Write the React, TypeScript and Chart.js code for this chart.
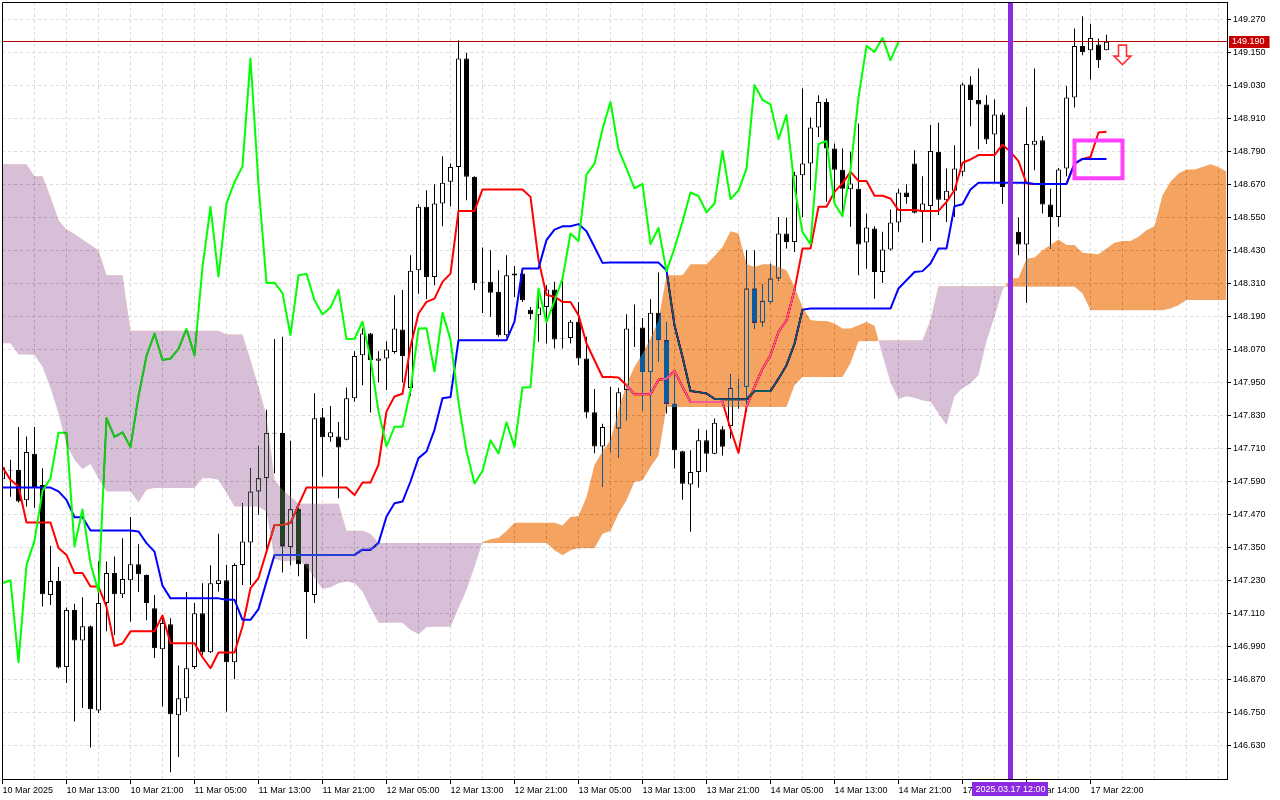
import React, { useEffect, useRef } from 'react';
import { Chart, registerables } from 'chart.js';

// ---- blend plugin: Ichimoku cloud drawn in "difference" mode (as the terminal does) ----
const cloudBlendPlugin = {
  id: 'cloudBlend',
  beforeDatasetDraw(chart: any, args: any) {
    const ds = chart.data.datasets[args.index];
    if (ds && ds.isCloud) {
      chart.ctx.save();
      chart.ctx.globalCompositeOperation = 'difference';
    }
  },
  afterDatasetDraw(chart: any, args: any) {
    const ds = chart.data.datasets[args.index];
    if (ds && ds.isCloud) chart.ctx.restore();
  },
};
Chart.register(cloudBlendPlugin);
Chart.register(...registerables);

// ---------------- DATA ----------------
const opens = [
  147.598, 147.633, 147.632, 147.522, 147.691, 147.577, 147.177, 147.228, 146.915, 147.123,
  147.012, 147.064, 146.757, 147.148, 147.257, 147.180, 147.231, 147.289, 147.250, 147.129,
  146.980, 147.071, 146.740, 146.802, 146.915, 147.111, 146.969, 147.217, 147.231, 146.933,
  147.286, 147.368, 147.554, 147.602, 147.767, 147.766, 147.351, 147.489, 147.289, 147.177,
  147.824, 147.751, 147.754, 147.742, 147.893, 148.049, 148.128, 148.029, 148.037, 148.061,
  148.143, 147.930, 148.358, 148.589, 148.334, 148.601, 148.680, 148.734, 149.128, 148.698,
  148.316, 148.316, 148.280, 148.122, 148.339, 148.346, 148.215, 148.195, 148.225, 148.288,
  148.111, 148.112, 148.171, 148.037, 147.842, 147.717, 147.789, 147.783, 147.922, 148.149,
  148.150, 147.988, 148.204, 148.104, 147.873, 147.700, 147.579, 147.625, 147.740, 147.691,
  147.780, 147.792, 147.935, 147.934, 148.292, 148.168, 148.243, 148.328, 148.492, 148.461,
  148.704, 148.746, 148.877, 148.970, 148.801, 148.724, 148.653, 148.655, 148.459, 148.510,
  148.352, 148.434, 148.532, 148.641, 148.746, 148.570, 148.592, 148.789, 148.613, 148.647,
  148.716, 149.034, 148.977, 148.961, 148.852, 148.925, 148.661, 148.498, 148.452, 148.815,
  148.831, 148.597, 148.552, 148.728, 148.986, 149.174, 149.158, 149.179, 149.158,
];
const highs = [
  147.660, 147.669, 147.788, 147.754, 147.788, 147.638, 147.356, 147.279, 147.132, 147.145,
  147.169, 147.066, 147.299, 147.299, 147.317, 147.384, 147.461, 147.362, 147.252, 147.177,
  147.104, 147.093, 146.921, 147.188, 147.148, 147.220, 147.285, 147.400, 147.287, 147.293,
  147.511, 147.638, 147.720, 147.851, 148.108, 148.116, 147.738, 147.493, 147.291, 147.911,
  147.857, 147.865, 147.806, 147.932, 148.064, 148.146, 148.130, 148.064, 148.100, 148.267,
  148.286, 148.413, 148.598, 148.649, 148.671, 148.773, 148.746, 149.195, 149.149, 148.700,
  148.441, 148.431, 148.358, 148.413, 148.374, 148.350, 148.225, 148.292, 148.304, 148.316,
  148.320, 148.177, 148.243, 148.116, 147.926, 147.800, 147.935, 147.931, 148.198, 148.234,
  148.185, 148.253, 148.350, 148.170, 147.976, 147.702, 147.704, 147.782, 147.776, 147.819,
  147.791, 147.980, 147.964, 148.431, 148.431, 148.307, 148.383, 148.552, 148.550, 148.716,
  149.019, 148.914, 148.995, 148.983, 148.819, 148.801, 148.789, 148.892, 148.564, 148.518,
  148.498, 148.579, 148.655, 148.671, 148.795, 148.700, 148.886, 148.895, 148.728, 148.813,
  149.040, 149.064, 149.092, 148.995, 148.979, 148.932, 148.700, 148.550, 148.952, 149.092,
  148.846, 148.655, 148.730, 149.028, 149.237, 149.282, 149.255, 149.201, 149.215,
];
const lows = [
  147.580, 147.535, 147.514, 147.499, 147.495, 147.135, 147.141, 146.910, 146.857, 146.717,
  146.766, 146.623, 146.748, 147.045, 147.032, 147.166, 147.081, 147.188, 147.085, 146.948,
  146.772, 146.533, 146.588, 146.754, 146.908, 146.960, 146.966, 147.190, 146.754, 146.871,
  147.214, 147.214, 147.469, 147.329, 147.620, 147.259, 147.285, 147.245, 147.017, 147.148,
  147.608, 147.735, 147.529, 147.740, 147.880, 147.940, 147.841, 147.950, 147.923, 148.055,
  147.950, 147.900, 148.273, 148.253, 148.304, 148.518, 148.591, 148.104, 148.613, 148.286,
  148.203, 148.189, 148.116, 148.116, 148.261, 148.243, 148.179, 148.098, 148.092, 148.074,
  148.074, 148.092, 148.013, 147.820, 147.693, 147.572, 147.699, 147.677, 147.813, 148.079,
  147.849, 147.685, 148.025, 147.837, 147.637, 147.524, 147.407, 147.568, 147.625, 147.689,
  147.685, 147.746, 147.855, 147.843, 148.146, 148.152, 148.238, 148.320, 148.437, 148.425,
  148.552, 148.649, 148.843, 148.607, 148.607, 148.552, 148.516, 148.340, 148.364, 148.255,
  148.312, 148.430, 148.498, 148.600, 148.565, 148.458, 148.465, 148.559, 148.534, 148.552,
  148.700, 148.882, 148.798, 148.817, 148.676, 148.599, 148.480, 148.413, 148.240, 148.722,
  148.565, 148.437, 148.516, 148.700, 148.950, 149.140, 149.052, 149.094, 149.158,
];
const closes = [
  147.642, 147.630, 147.517, 147.697, 147.569, 147.180, 147.228, 146.914, 147.123, 147.012,
  147.064, 146.762, 147.148, 147.257, 147.180, 147.235, 147.289, 147.253, 147.148, 146.984,
  147.075, 146.744, 146.802, 146.911, 147.111, 146.969, 147.220, 147.231, 146.933, 147.286,
  147.372, 147.554, 147.602, 147.766, 147.765, 147.354, 147.489, 147.289, 147.188, 147.820,
  147.751, 147.769, 147.714, 147.893, 148.046, 148.128, 148.031, 148.037, 148.070, 148.146,
  148.046, 148.356, 148.589, 148.334, 148.601, 148.676, 148.734, 149.128, 148.698, 148.312,
  148.314, 148.276, 148.122, 148.340, 148.346, 148.249, 148.198, 148.223, 148.288, 148.106,
  148.109, 148.171, 148.037, 147.841, 147.717, 147.788, 147.787, 147.915, 148.146, 148.147,
  147.988, 148.204, 148.104, 147.873, 147.704, 147.582, 147.625, 147.740, 147.691, 147.804,
  147.716, 147.931, 147.933, 148.292, 148.167, 148.247, 148.328, 148.492, 148.461, 148.704,
  148.746, 148.877, 148.970, 148.801, 148.724, 148.655, 148.674, 148.452, 148.514, 148.352,
  148.434, 148.532, 148.641, 148.625, 148.567, 148.601, 148.792, 148.615, 148.647, 148.728,
  149.034, 148.977, 148.961, 148.834, 148.925, 148.661, 148.500, 148.452, 148.817, 148.829,
  148.597, 148.552, 148.725, 148.986, 149.174, 149.152, 149.203, 149.122, 149.189,
];
const tenkan = [
  147.642, 147.596, 147.572, 147.441, 147.441, 147.441, 147.441, 147.348, 147.323, 147.257,
  147.257, 147.208, 147.208, 147.135, 146.992, 147.001, 147.045, 147.045, 147.045, 147.045,
  147.103, 147.002, 147.002, 147.002, 147.002, 146.951, 146.911, 146.968, 146.968, 146.968,
  147.063, 147.202, 147.239, 147.335, 147.432, 147.433, 147.439, 147.505, 147.568, 147.568,
  147.568, 147.568, 147.568, 147.568, 147.541, 147.586, 147.586, 147.651, 147.845, 147.899,
  147.909, 148.080, 148.201, 148.243, 148.255, 148.316, 148.346, 148.574, 148.574, 148.574,
  148.652, 148.652, 148.652, 148.652, 148.652, 148.652, 148.625, 148.395, 148.268, 148.262,
  148.243, 148.243, 148.195, 148.092, 148.031, 147.970, 147.970, 147.968, 147.940, 147.907,
  147.907, 147.907, 147.960, 147.964, 147.992, 147.934, 147.879, 147.879, 147.879, 147.879,
  147.879, 147.782, 147.694, 147.861, 147.934, 148.000, 148.049, 148.134, 148.176, 148.286,
  148.437, 148.437, 148.589, 148.589, 148.643, 148.674, 148.716, 148.683, 148.683, 148.629,
  148.629, 148.619, 148.577, 148.577, 148.577, 148.574, 148.574, 148.574, 148.607, 148.649,
  148.749, 148.761, 148.777, 148.777, 148.777, 148.815, 148.789, 148.755, 148.674, 148.672,
  148.672, 148.672, 148.672, 148.672, 148.745, 148.763, 148.770, 148.859, 148.862,
];
const kijun = [
  147.568, 147.568, 147.568, 147.568, 147.568, 147.568, 147.568, 147.554, 147.523, 147.460,
  147.460, 147.412, 147.412, 147.412, 147.412, 147.412, 147.412, 147.408, 147.366, 147.335,
  147.211, 147.165, 147.165, 147.165, 147.165, 147.165, 147.165, 147.165, 147.160, 147.160,
  147.087, 147.087, 147.126, 147.226, 147.323, 147.323, 147.323, 147.323, 147.323, 147.323,
  147.323, 147.323, 147.323, 147.323, 147.323, 147.342, 147.342, 147.366, 147.463, 147.511,
  147.517, 147.590, 147.675, 147.699, 147.778, 147.893, 147.897, 148.104, 148.104, 148.104,
  148.104, 148.104, 148.104, 148.104, 148.171, 148.365, 148.365, 148.365, 148.468, 148.506,
  148.518, 148.518, 148.526, 148.500, 148.443, 148.385, 148.386, 148.386, 148.386, 148.386,
  148.386, 148.386, 148.386, 148.358, 148.158, 148.043, 147.919, 147.915, 147.910, 147.891,
  147.889, 147.889, 147.889, 147.889, 147.919, 147.919, 147.919, 147.964, 148.013, 148.091,
  148.215, 148.219, 148.219, 148.219, 148.219, 148.219, 148.219, 148.219, 148.219, 148.219,
  148.219, 148.219, 148.292, 148.322, 148.352, 148.355, 148.383, 148.437, 148.437, 148.591,
  148.598, 148.652, 148.676, 148.676, 148.676, 148.676, 148.676, 148.676, 148.676, 148.672,
  148.672, 148.672, 148.672, 148.672, 148.746, 148.763, 148.763, 148.763, 148.763,
];
const chikou = [
  147.220, 147.231, 146.933, 147.286, 147.375, 147.556, 147.602, 147.767, 147.767, 147.354,
  147.488, 147.292, 147.189, 147.820, 147.752, 147.769, 147.715, 147.900, 148.047, 148.128,
  148.032, 148.037, 148.072, 148.145, 148.049, 148.370, 148.589, 148.335, 148.601, 148.678,
  148.737, 149.128, 148.670, 148.312, 148.313, 148.275, 148.122, 148.340, 148.345, 148.249,
  148.198, 148.223, 148.287, 148.108, 148.109, 148.171, 148.037, 147.845, 147.718, 147.789,
  147.789, 147.920, 148.146, 148.147, 147.990, 148.204, 148.106, 147.878, 147.700, 147.583,
  147.628, 147.740, 147.692, 147.805, 147.716, 147.932, 147.933, 148.292, 148.169, 148.247,
  148.328, 148.492, 148.464, 148.706, 148.746, 148.872, 148.970, 148.798, 148.728, 148.656,
  148.672, 148.453, 148.512, 148.355, 148.438, 148.535, 148.641, 148.628, 148.569, 148.601,
  148.792, 148.617, 148.648, 148.728, 149.032, 148.978, 148.961, 148.835, 148.923, 148.661,
  148.497, 148.453, 148.817, 148.828, 148.600, 148.555, 148.723, 148.987, 149.174, 149.152,
  149.203, 149.122, 149.189,
];
const spanA = [
  148.093, 148.093, 148.052, 148.052, 148.050, 148.007, 147.930, 147.838, 147.723, 147.669,
  147.635, 147.654, 147.602, 147.554, 147.554, 147.554, 147.554, 147.514, 147.560, 147.566,
  147.566, 147.566, 147.566, 147.566, 147.566, 147.602, 147.602, 147.596, 147.548, 147.499,
  147.499, 147.499, 147.499, 147.480, 147.310, 147.300, 147.300, 147.305, 147.280, 147.240,
  147.199, 147.205, 147.220, 147.226, 147.220, 147.190, 147.130, 147.076, 147.076, 147.076,
  147.076, 147.050, 147.035, 147.060, 147.062, 147.062, 147.062, 147.130, 147.195, 147.280,
  147.370, 147.380, 147.385, 147.410, 147.440, 147.440, 147.440, 147.440, 147.440, 147.440,
  147.430, 147.461, 147.465, 147.534, 147.650, 147.700, 147.740, 147.850, 147.943, 148.007,
  148.055, 148.110, 148.176, 148.340, 148.340, 148.340, 148.380, 148.380, 148.380, 148.410,
  148.443, 148.500, 148.492, 148.380, 148.370, 148.380, 148.380, 148.370, 148.358, 148.298,
  148.225, 148.177, 148.174, 148.174, 148.165, 148.146, 148.146, 148.158, 148.170, 148.156,
  148.050, 147.950, 147.890, 147.900, 147.895, 147.885, 147.880, 147.837, 147.795, 147.900,
  147.930, 147.946, 147.977, 148.100, 148.189, 148.286, 148.328, 148.330, 148.400, 148.405,
  148.431, 148.450, 148.470, 148.450, 148.450, 148.422, 148.419, 148.416, 148.437, 148.458,
  148.465, 148.465, 148.480, 148.504, 148.518, 148.631, 148.680, 148.710, 148.725, 148.725,
  148.734, 148.744, 148.734, 148.716,
];
const spanB = [
  148.744, 148.744, 148.744, 148.744, 148.700, 148.700, 148.625, 148.540, 148.506, 148.490,
  148.470, 148.450, 148.431, 148.340, 148.340, 148.340, 148.138, 148.138, 148.138, 148.138,
  148.138, 148.138, 148.138, 148.138, 148.138, 148.138, 148.138, 148.138, 148.125, 148.125,
  148.125, 148.031, 147.934, 147.826, 147.596, 147.560, 147.535, 147.509, 147.509, 147.509,
  147.509, 147.509, 147.509, 147.411, 147.411, 147.411, 147.400, 147.366, 147.366, 147.366,
  147.366, 147.366, 147.366, 147.366, 147.366, 147.366, 147.366, 147.366, 147.366, 147.366,
  147.366, 147.366, 147.366, 147.366, 147.366, 147.366, 147.366, 147.366, 147.366, 147.340,
  147.322, 147.340, 147.347, 147.347, 147.347, 147.400, 147.410, 147.473, 147.522, 147.588,
  147.594, 147.643, 147.685, 147.861, 147.861, 147.861, 147.861, 147.861, 147.861, 147.861,
  147.861, 147.861, 147.861, 147.861, 147.861, 147.861, 147.861, 147.861, 147.861, 147.940,
  147.970, 147.970, 147.970, 147.970, 147.970, 147.970, 148.020, 148.100, 148.100, 148.100,
  148.104, 148.104, 148.104, 148.104, 148.104, 148.104, 148.177, 148.300, 148.300, 148.300,
  148.300, 148.300, 148.300, 148.300, 148.300, 148.300, 148.298, 148.298, 148.298, 148.298,
  148.298, 148.298, 148.298, 148.298, 148.298, 148.274, 148.213, 148.213, 148.213, 148.213,
  148.213, 148.213, 148.213, 148.213, 148.213, 148.213, 148.219, 148.231, 148.250, 148.250,
  148.250, 148.250, 148.250, 148.250,
];

const priceTicks = [
  146.63, 146.75, 146.87, 146.99, 147.11, 147.23, 147.35, 147.47, 147.59, 147.71, 147.83, 147.95,
  148.07, 148.19, 148.31, 148.43, 148.55, 148.67, 148.79, 148.91, 149.03, 149.15, 149.27,
];
const timeLabels = [
  '10 Mar 2025', '10 Mar 13:00', '10 Mar 21:00', '11 Mar 05:00', '11 Mar 13:00', '11 Mar 21:00',
  '12 Mar 05:00', '12 Mar 13:00', '12 Mar 21:00', '13 Mar 05:00', '13 Mar 13:00', '13 Mar 21:00',
  '14 Mar 05:00', '14 Mar 13:00', '14 Mar 21:00', '17 Mar 06:00', '17 Mar 14:00', '17 Mar 22:00',
];
const timeLabelBars = [0, 8, 16, 24, 32, 40, 48, 56, 64, 72, 80, 88, 96, 104, 112, 120, 128, 136];
const gridBars = [
  0, 4, 8, 12, 16, 20, 24, 28, 32, 36, 40, 44, 48, 52, 56, 60, 64, 68, 72, 76, 80, 84, 88, 92, 96,
  100, 104, 108, 112, 116, 120, 124, 128, 132, 136, 140, 144, 148, 152,
];

const currentPrice = 149.19;
const markerBar = 126;
const markerLabel = '2025.03.17 12:00';
const boxBars = [134, 140];
const boxPrices = [148.693, 148.830];
const arrowBar = 140;
const arrowTopPrice = 149.177;

const X_MIN = -0.0625;
const X_MAX = 153.0625;
const Y_MAX = 149.33364;
const Y_MIN = 146.50818;

const FONT = 'Liberation Sans';
const FONT_SIZE = 9;

// ---------------- CHART ----------------
const overlayPlugin = {
  id: 'overlay',
  beforeDraw(chart: any) {
    const { ctx, width, height } = chart;
    ctx.save();
    ctx.fillStyle = '#ffffff';
    ctx.fillRect(0, 0, width, height);
    ctx.restore();
  },
  afterDraw(chart: any) {
    const { ctx, chartArea: a } = chart;
    const xs = chart.scales.x;
    const ys = chart.scales.y;
    ctx.save();
    // frame (left/top)
    ctx.strokeStyle = '#000';
    ctx.lineWidth = 1;
    ctx.beginPath();
    ctx.moveTo(a.left + 0.5, a.bottom);
    ctx.lineTo(a.left + 0.5, a.top + 0.5);
    ctx.lineTo(a.right, a.top + 0.5);
    ctx.stroke();

    ctx.font = `${FONT_SIZE}px "${FONT}"`;
    ctx.textBaseline = 'middle';
    // current price label
    const py = ys.getPixelForValue(currentPrice);
    const ptxt = currentPrice.toFixed(3);
    const pw = ctx.measureText(ptxt).width;
    ctx.fillStyle = '#c80000';
    ctx.fillRect(a.right + 2, Math.round(py) - 6, pw + 8, 12);
    ctx.fillStyle = '#ffffff';
    ctx.textAlign = 'left';
    ctx.fillText(ptxt, a.right + 5, py + 0.5);

    // vertical marker time label
    const vx = xs.getPixelForValue(markerBar);
    const mw = ctx.measureText(markerLabel).width + 6;
    ctx.fillStyle = '#8a2be2';
    ctx.fillRect(Math.round(vx - mw / 2), a.bottom + 3, Math.round(mw), 14);
    ctx.fillStyle = '#ffffff';
    ctx.textAlign = 'center';
    ctx.fillText(markerLabel, vx, a.bottom + 10.5);

    // sell arrow
    const ax = xs.getPixelForValue(arrowBar);
    const ay = ys.getPixelForValue(arrowTopPrice);
    ctx.beginPath();
    ctx.moveTo(ax - 4, ay);
    ctx.lineTo(ax + 4, ay);
    ctx.lineTo(ax + 4, ay + 11);
    ctx.lineTo(ax + 8.5, ay + 11);
    ctx.lineTo(ax, ay + 19.5);
    ctx.lineTo(ax - 8.5, ay + 11);
    ctx.lineTo(ax - 4, ay + 11);
    ctx.closePath();
    ctx.fillStyle = '#ffffff';
    ctx.fill();
    ctx.lineJoin = 'miter';
    ctx.lineWidth = 1.6;
    ctx.strokeStyle = '#ff3030';
    ctx.stroke();
    ctx.restore();
  },
};

function buildConfig(): any {
  const idx = opens.map((_, i) => i);
  const wickData = idx.map((i) => ({ x: i, y: [lows[i], highs[i]] }));
  const bodyData = idx.map((i) => ({ x: i, y: [opens[i], closes[i]] }));
  const tenkanData = tenkan.map((v, i) => ({ x: i, y: v }));
  const kijunData = kijun.map((v, i) => ({ x: i, y: v }));
  const chikouData = chikou.map((v, i) => ({ x: i, y: v }));
  const aData = spanA.map((v, i) => ({ x: i, y: v }));
  const bData = spanB.map((v, i) => ({ x: i, y: v }));

  const lineBase = {
    type: 'line',
    pointRadius: 0,
    pointHoverRadius: 0,
    tension: 0,
    fill: false,
    clip: 0,
    borderJoinStyle: 'round',
  };

  const datasets: any[] = [
    {
      ...lineBase,
      label: 'marker',
      data: [{ x: markerBar, y: Y_MIN }, { x: markerBar, y: Y_MAX }],
      borderColor: '#8a2be2',
      backgroundColor: '#8a2be2',
      borderWidth: 5,
      borderCapStyle: 'butt',
      order: 0,
    },
    {
      ...lineBase,
      label: 'Senkou A',
      isCloud: true,
      data: aData,
      borderColor: 'rgba(0,0,0,0)',
      backgroundColor: 'rgba(0,0,0,0)',
      borderWidth: 0,
      fill: { target: 9, above: 'rgb(11,91,159)', below: 'rgb(39,64,39)' },
      order: 1,
    },
    {
      ...lineBase,
      label: 'box',
      data: [
        { x: boxBars[0], y: boxPrices[1] },
        { x: boxBars[1], y: boxPrices[1] },
        { x: boxBars[1], y: boxPrices[0] },
        { x: boxBars[0], y: boxPrices[0] },
        { x: boxBars[0], y: boxPrices[1] },
      ],
      borderColor: '#ff40ff',
      backgroundColor: '#ff40ff',
      borderWidth: 4,
      borderJoinStyle: 'miter',
      borderCapStyle: 'square',
      order: 2,
    },
    {
      ...lineBase,
      label: 'bid',
      data: [{ x: X_MIN, y: currentPrice }, { x: X_MAX, y: currentPrice }],
      borderColor: '#b00000',
      backgroundColor: '#b00000',
      borderWidth: 1,
      order: 3,
    },
    {
      ...lineBase,
      label: 'Chikou',
      data: chikouData,
      borderColor: '#00ff00',
      backgroundColor: '#00ff00',
      borderWidth: 2,
      order: 4,
    },
    {
      ...lineBase,
      label: 'Kijun',
      data: kijunData,
      borderColor: '#0000ff',
      backgroundColor: '#0000ff',
      borderWidth: 2,
      order: 5,
    },
    {
      ...lineBase,
      label: 'Tenkan',
      data: tenkanData,
      borderColor: '#ff0000',
      backgroundColor: '#ff0000',
      borderWidth: 2,
      order: 6,
    },
    {
      type: 'bar',
      label: 'bodies',
      data: bodyData,
      barThickness: 5,
      grouped: false,
      borderWidth: 1,
      borderSkipped: false,
      inflateAmount: 0,
      borderColor: '#000000',
      backgroundColor: (c: any) => {
        const r = c.raw;
        return r && r.y[1] >= r.y[0] ? '#ffffff' : '#000000';
      },
      order: 7,
    },
    {
      type: 'bar',
      label: 'wicks',
      data: wickData,
      barThickness: 1,
      grouped: false,
      borderWidth: 0,
      inflateAmount: 0,
      borderColor: '#000000',
      backgroundColor: '#000000',
      order: 8,
    },
    {
      ...lineBase,
      label: 'Senkou B',
      data: bData,
      borderColor: 'rgba(0,0,0,0)',
      backgroundColor: 'rgba(0,0,0,0)',
      borderWidth: 0,
      order: 9,
    },
  ];

  const tickFont = { family: FONT, size: FONT_SIZE };

  return {
    type: 'bar',
    data: { datasets },
    plugins: [overlayPlugin],
    options: {
      animation: false,
      responsive: false,
      events: [],
      layout: { padding: { left: 2, top: 2, right: 0, bottom: 0 } },
      plugins: {
        legend: { display: false },
        tooltip: { enabled: false },
        title: { display: false },
      },
      scales: {
        x: {
          type: 'linear',
          min: X_MIN,
          max: X_MAX,
          offset: false,
          afterBuildTicks: (scale: any) => {
            scale.ticks = gridBars.map((v) => ({ value: v }));
          },
          afterFit: (scale: any) => {
            scale.height = 21;
            scale.paddingLeft = 0;
            scale.paddingRight = 0;
          },
          grid: {
            offset: false,
            color: '#dcdcdc',
            lineWidth: 1,
            drawTicks: true,
            tickLength: 5,
            tickWidth: 1,
            tickColor: (c: any) =>
              c.tick && timeLabelBars.includes(c.tick.value) ? '#000000' : 'rgba(0,0,0,0)',
          },
          border: { display: true, color: '#000000', width: 1, dash: [3, 3] },
          ticks: {
            autoSkip: false,
            maxRotation: 0,
            minRotation: 0,
            align: 'start',
            padding: 1,
            color: '#000000',
            font: tickFont,
            callback: (value: any) => {
              const k = timeLabelBars.indexOf(Number(value));
              return k >= 0 ? timeLabels[k] : '';
            },
          },
        },
        y: {
          type: 'linear',
          position: 'right',
          min: Y_MIN,
          max: Y_MAX,
          beginAtZero: false,
          afterBuildTicks: (scale: any) => {
            scale.ticks = priceTicks.map((v) => ({ value: v }));
          },
          afterFit: (scale: any) => {
            scale.width = 53;
            scale.paddingTop = 0;
            scale.paddingBottom = 0;
          },
          grid: {
            color: '#dcdcdc',
            lineWidth: 1,
            drawTicks: true,
            tickLength: 4,
            tickWidth: 1,
            tickColor: '#000000',
          },
          border: { display: true, color: '#000000', width: 1, dash: [3, 3] },
          ticks: {
            autoSkip: false,
            padding: 2,
            color: '#000000',
            font: tickFont,
            callback: (value: any) => Number(value).toFixed(3),
          },
        },
      },
    },
  };
}

export default function App() {
  const ref = useRef<HTMLCanvasElement>(null);
  useEffect(() => {
    document.body.style.margin = '0';
    if (!ref.current) return;
    const chart = new Chart(ref.current, buildConfig());
    return () => chart.destroy();
  }, []);
  return (
    <div style={{ position: 'fixed', left: 0, top: 0, width: 1280, height: 800, background: '#ffffff' }}>
      <canvas ref={ref} width={1280} height={800} style={{ display: 'block', width: 1280, height: 800 }} />
    </div>
  );
}
